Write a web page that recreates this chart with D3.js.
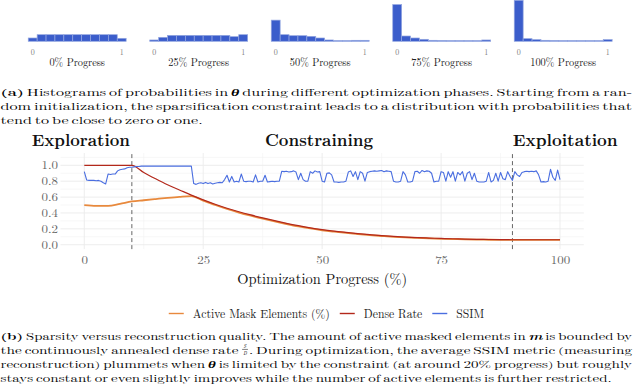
<!DOCTYPE html>
<html><head><meta charset="utf-8">
<script src="https://cdn.jsdelivr.net/npm/d3@7"></script>
<style>
body{margin:0;background:#fff}
svg{display:block}
</style>
</head><body>
<svg id="c" width="640" height="386"></svg>
<script>
// ---------------- DATA ----------------
const histBins = [0, 0.1, 0.2, 0.3, 0.4, 0.5, 0.6, 0.7, 0.8, 0.9, 1.0];
const histTitles = ["0% Progress", "25% Progress", "50% Progress", "75% Progress", "100% Progress"];
const histTickLabels = ["0", "1"];
const hist0   = [5, 10, 10, 10, 10, 10, 10, 10, 10, 10, 4.5];
const hist25  = [2, 6, 9, 9, 9, 9, 9, 9, 9, 7, 10];
const hist50  = [32, 10, 8.5, 8.5, 7.5, 5, 2, 1, 1, 1.5, 1.5];
const hist75  = [55.5, 8, 5, 3, 1.5, 1.2, 1, 1, 1, 1, 2];
const hist100 = [62, 4, 2.5, 1.5, 1.2, 1, 1, 1, 1, 1, 2.5];
const histSeries = [hist0, hist25, hist50, hist75, hist100];

const seriesNames = ["Active Mask Elements (%)", "Dense Rate", "SSIM"];
const seriesColors = ["#E8893D", "#B3281B", "#4A6EE0"];
const phaseNames = ["Exploration", "Constraining", "Exploitation"];
const phaseBounds = [10, 90];
const xTicks = [0, 25, 50, 75, 100];
const yTicks = [0, 0.2, 0.4, 0.6, 0.8, 1.0];

// progress (%) for the smooth series, every 2.5 %
const rateProgress = d3.range(0, 100.01, 2.5);
const denseRate = [1.0, 1.0, 1.0, 1.0, 1.0, 0.91, 0.83, 0.755, 0.69, 0.625,
  0.565, 0.51, 0.46, 0.415, 0.375, 0.338, 0.303, 0.27, 0.24, 0.213,
  0.19, 0.171, 0.155, 0.14, 0.127, 0.115, 0.105, 0.097, 0.09, 0.084,
  0.079, 0.075, 0.071, 0.068, 0.066, 0.064, 0.063, 0.063, 0.063, 0.063, 0.063];
const activeMask = [0.50, 0.49, 0.49, 0.515, 0.545, 0.56, 0.575, 0.59, 0.603, 0.612,
  0.555, 0.50, 0.45, 0.405, 0.365, 0.328, 0.293, 0.261, 0.231, 0.205,
  0.182, 0.164, 0.148, 0.134, 0.121, 0.11, 0.1, 0.092, 0.086, 0.08,
  0.075, 0.071, 0.068, 0.065, 0.063, 0.062, 0.061, 0.061, 0.06, 0.06, 0.06];

// progress (%) for SSIM, every 0.5 %
const ssimProgress = d3.range(0, 100.01, 0.5);
const ssim = [
  0.92, 0.815, 0.81, 0.81, 0.81, 0.805, 0.81, 0.80, 0.78, 0.765,
  0.89, 0.885, 0.89, 0.89, 0.93, 0.945, 0.95, 0.955, 0.97, 0.975,
  0.975, 0.98, 0.985, 0.985, 0.99, 0.99, 0.99, 0.99, 0.99, 0.99,
  0.99, 0.99, 0.99, 0.99, 0.99, 0.99, 0.99, 0.99, 0.99, 0.99,
  0.99, 0.99, 0.99, 0.99, 0.99, 0.99, 0.77, 0.76, 0.775, 0.78,
  0.77, 0.785, 0.77, 0.78, 0.765, 0.775, 0.78, 0.785, 0.78, 0.82,
  0.875, 0.79, 0.86, 0.79, 0.80, 0.79, 0.89, 0.80, 0.795, 0.80,
  0.80, 0.79, 0.88, 0.79, 0.80, 0.80, 0.875, 0.79, 0.795, 0.80,
  0.795, 0.80, 0.80, 0.925, 0.92, 0.925, 0.915, 0.92, 0.93, 0.915,
  0.82, 0.90, 0.82, 0.80, 0.80, 0.92, 0.90, 0.93, 0.915, 0.92,
  0.80, 0.79, 0.90, 0.905, 0.88, 0.79, 0.79, 0.785, 0.79, 0.79,
  0.80, 0.915, 0.93, 0.86, 0.92, 0.82, 0.92, 0.90, 0.80, 0.91,
  0.92, 0.925, 0.93, 0.925, 0.93, 0.935, 0.92, 0.93, 0.925, 0.92,
  0.80, 0.79, 0.79, 0.80, 0.92, 0.88, 0.79, 0.79, 0.80, 0.92,
  0.925, 0.90, 0.935, 0.92, 0.93, 0.925, 0.90, 0.79, 0.80, 0.80,
  0.92, 0.91, 0.80, 0.92, 0.85, 0.92, 0.80, 0.91, 0.88, 0.92,
  0.80, 0.90, 0.92, 0.82, 0.90, 0.80, 0.79, 0.79, 0.79, 0.80,
  0.91, 0.79, 0.81, 0.90, 0.80, 0.91, 0.83, 0.82, 0.92, 0.86,
  0.81, 0.92, 0.88, 0.86, 0.91, 0.92, 0.925, 0.92, 0.925, 0.92,
  0.93, 0.88, 0.79, 0.795, 0.79, 0.80, 0.95, 0.85, 0.81, 0.94,
  0.82];

const captionA = [
  {text: "**(a)** Histograms of probabilities in $θ$ during different optimization phases. Starting from a ran-", justify: true},
  {text: "dom initialization, the sparsification constraint leads to a distribution with probabilities that", justify: true},
  {text: "tend to be close to zero or one.", justify: false}
];
const captionB = [
  {text: "**(b)** Sparsity versus reconstruction quality. The amount of active masked elements in $m$ is bounded by", justify: true},
  {text: "the continuously annealed dense rate @frac. During optimization, the average SSIM metric (measuring", justify: true},
  {text: "reconstruction) plummets when $θ$ is limited by the constraint (at around 20% progress) but roughly", justify: true},
  {text: "stays constant or even slightly improves while the number of active elements is further restricted.", justify: false}
];

// ---------------- FONT PICK ----------------
function pickSerif() {
  const cands = ["Latin Modern Roman", "LM Roman 10", "CMU Serif", "Computer Modern", "Liberation Serif",
    "Tinos", "DejaVu Serif", "Noto Serif", "FreeSerif", "Nimbus Roman", "Nimbus Roman No9 L",
    "Times New Roman", "Times", "Georgia", "PT Serif", "Source Serif Pro", "Droid Serif",
    "Bitstream Vera Serif", "Noto Serif CJK SC", "Noto Serif CJK JP", "Noto Serif CJK KR"];
  const ctx = document.createElement("canvas").getContext("2d");
  const s = "mmmmmmmmmmlliWwQqg@#1234 Hamburgefonstiv";
  const bases = ["monospace", "sans-serif", "cursive"];
  const base = bases.map(b => { ctx.font = "72px " + b; return ctx.measureText(s).width; });
  for (const c of cands) {
    let diff = 0;
    bases.forEach((b, i) => {
      ctx.font = `72px "${c}", ${b}`;
      if (Math.abs(ctx.measureText(s).width - base[i]) > 0.5) diff++;
    });
    if (diff === 3) return `"${c}", serif`;
  }
  return "serif";
}
const FONT = pickSerif();
const svg = d3.select("#c").style("font-family", FONT).attr("font-family", FONT);

// font box metrics (per 1px of font size)
const M = (() => {
  const t = svg.append("text").attr("font-size", 100).text("Hg(");
  const bb = t.node().getBBox();
  t.remove();
  return {asc: -bb.y / 100, desc: (bb.y + bb.height) / 100};
})();
const R = M.asc + M.desc;

// ---------------- DRAW ----------------
function fitFactor(str, fs, target, weight) {
  const t = svg.append("text").attr("font-size", fs).attr("font-weight", weight || "normal").text(str);
  const w = t.node().getComputedTextLength();
  t.remove();
  return target / w;
}
function stretch(sel, f) {
  sel.each(function () {
    const w = this.getComputedTextLength();
    d3.select(this).attr("textLength", w * f).attr("lengthAdjust", "spacingAndGlyphs");
  });
}

// ---- histograms ----
const fsHT = Math.min(11.5, 11.5);
const fHist = fitFactor("0% Progress", fsHT, 55.5);
const yh = d3.scaleLinear().domain([0, 62]).range([41.3, 0.3]);
histSeries.forEach((vals, i) => {
  const x0 = 32.7 + i * 121.5;
  const xh = d3.scaleLinear().domain([0, 1]).range([x0, x0 + 89]);
  const g = svg.append("g");
  const bw = xh(0.1) - xh(0);
  g.selectAll("rect").data(vals).join("rect")
    .attr("x", (d, j) => xh(histBins[j] - 0.05))
    .attr("width", bw)
    .attr("y", d => yh(d))
    .attr("height", d => yh(0) - yh(d))
    .attr("fill", "#3B5DCB")
    .attr("stroke", "#93A6E0")
    .attr("stroke-width", 0.7);
  g.selectAll("text.tk").data(histTickLabels).join("text").attr("class", "tk")
    .attr("x", (d, j) => xh(j)).attr("y", 54.5)
    .attr("text-anchor", "middle").attr("font-size", 8).attr("fill", "#808080")
    .text(d => d);
  g.append("text").attr("x", xh(0.5)).attr("y", 65.5)
    .attr("text-anchor", "middle").attr("font-size", fsHT).attr("fill", "#222")
    .text(histTitles[i]).call(stretch, fHist);
});

// ---- captions ----
const LH = 14;
const fsCap = Math.min(11.4, (LH - 0.2) / R);
const fsFrac = Math.min(6.5, (fsCap * R - 0.3) / (2 * R));
function richWord(parent, word, fs) {
  const t = parent.append("text").attr("font-size", fs).attr("fill", "#000");
  word.split(/(\*\*[^*]+\*\*|\$[^$]+\$)/).filter(s => s.length).forEach(p => {
    const ts = t.append("tspan");
    if (p.startsWith("**")) ts.attr("font-weight", "bold").text(p.slice(2, -2));
    else if (p.startsWith("$")) ts.attr("font-weight", "bold").attr("font-style", "italic").text(p.slice(1, -1));
    else ts.text(p);
  });
  return t;
}
function paragraph(lines, x0, y0, lh, fs, width) {
  const gapN = fs * 0.3;
  const built = lines.map(ln => {
    const g = svg.append("g");
    const items = ln.text.split(" ").map(tok => {
      const tg = g.append("g");
      const inner = tg.append("g");
      let w, fixed = 0;
      if (tok.startsWith("@frac")) {
        const yS = -fs * M.asc + fsFrac * M.asc + 0.1;
        const yD = fs * M.desc - fsFrac * M.desc - 0.1;
        const yBar = ((yS + fsFrac * M.desc) + (yD - fsFrac * M.asc)) / 2;
        tg.append("text").attr("font-size", fsFrac).attr("font-style", "italic")
          .attr("text-anchor", "middle").attr("x", 3.6).attr("y", yS).text("S");
        tg.append("line").attr("x1", 0.8).attr("x2", 6.6).attr("y1", yBar).attr("y2", yBar)
          .attr("stroke", "#000").attr("stroke-width", 0.5);
        tg.append("text").attr("font-size", fsFrac).attr("font-style", "italic")
          .attr("text-anchor", "middle").attr("x", 3.6).attr("y", yD).text("D");
        const st = inner.append("text").attr("font-size", fs).text(tok.slice(5));
        w = st.node().getComputedTextLength();
        fixed = 7.6;
      } else {
        w = richWord(inner, tok, fs).node().getComputedTextLength();
      }
      return {tg, inner, w, fixed};
    });
    const nat = d3.sum(items, d => d.w);
    const fixedW = d3.sum(items, d => d.fixed);
    const hs = (width - fixedW - gapN * (items.length - 1)) / nat;
    return {ln, items, hs};
  });
  const justHs = d3.mean(built.filter(b => b.ln.justify), b => b.hs);
  built.forEach((b, i) => {
    const hs = b.ln.justify ? b.hs : justHs;
    let x = x0;
    b.items.forEach(it => {
      it.tg.attr("transform", `translate(${x},${y0 + i * lh})`);
      it.inner.attr("transform", `translate(${it.fixed},0) scale(${hs},1)`);
      x += it.fixed + it.w * hs + gapN;
    });
  });
}
paragraph(captionA, 0.5, 95.5, LH, fsCap, 631.5);
paragraph(captionB, 0.5, 339.5, LH, fsCap, 631.5);

// ---- main chart ----
const x = d3.scaleLinear().domain([-5, 105]).range([60.5, 583.8]);
const y = d3.scaleLinear().domain([-0.055, 1.155]).range([249.1, 153]);
const grid = svg.append("g");
const xMinor = [12.5, 37.5, 62.5, 87.5];
const yMinor = [0.1, 0.3, 0.5, 0.7, 0.9, 1.1];
grid.selectAll("line.hmin").data(yMinor).join("line")
  .attr("x1", x.range()[0]).attr("x2", x.range()[1]).attr("y1", d => y(d)).attr("y2", d => y(d))
  .attr("stroke", "#f2f2f2").attr("stroke-width", 0.6);
grid.selectAll("line.vmin").data(xMinor).join("line")
  .attr("y1", y.range()[0]).attr("y2", y.range()[1]).attr("x1", d => x(d)).attr("x2", d => x(d))
  .attr("stroke", "#f2f2f2").attr("stroke-width", 0.6);
grid.selectAll("line.hmaj").data(yTicks).join("line")
  .attr("x1", x.range()[0]).attr("x2", x.range()[1]).attr("y1", d => y(d)).attr("y2", d => y(d))
  .attr("stroke", "#ebebeb").attr("stroke-width", 0.9);
grid.selectAll("line.vmaj").data(xTicks).join("line")
  .attr("y1", y.range()[0]).attr("y2", y.range()[1]).attr("x1", d => x(d)).attr("x2", d => x(d))
  .attr("stroke", "#ebebeb").attr("stroke-width", 0.9);

// axes
const fsTick = Math.min(12, (y(0) - y(0.2) - 0.4) / R);
const fTick = fitFactor("1.0", fsTick, 16.5);
const xAxis = svg.append("g").attr("transform", `translate(0,${y.range()[0]})`)
  .call(d3.axisBottom(x).tickValues(xTicks).tickSize(0).tickPadding(0).tickFormat(d3.format("d")));
const yAxis = svg.append("g").attr("transform", `translate(${x.range()[0]},0)`)
  .call(d3.axisLeft(y).tickValues(yTicks).tickSize(0).tickPadding(2.5).tickFormat(d3.format(".1f")));
[xAxis, yAxis].forEach(a => {
  a.attr("font-family", null);
  a.select(".domain").remove();
  a.selectAll("text").attr("font-size", fsTick).attr("fill", "#666").call(stretch, fTick);
});
const xTickBase = 264;
xAxis.selectAll("text").attr("y", xTickBase - y.range()[0]).attr("dy", null);
const fsTitle = 14.5;
const titleBase = Math.max(279.5, xTickBase + fsTick * M.desc + fsTitle * M.asc + 0.3);
const fTitle = fitFactor("Optimization Progress (%)", fsTitle, 170);
svg.append("text").attr("x", x(50)).attr("y", titleBase).attr("text-anchor", "middle")
  .attr("font-size", fsTitle).attr("fill", "#111").text("Optimization Progress (%)").call(stretch, fTitle);

// phase separators
svg.append("g").selectAll("line").data(phaseBounds).join("line")
  .attr("x1", d => x(d)).attr("x2", d => x(d)).attr("y1", y.range()[0]).attr("y2", y.range()[1])
  .attr("stroke", "#555").attr("stroke-width", 0.9).attr("stroke-dasharray", "4,3");

// lines
const lineRate = d3.line().x((d, i) => x(rateProgress[i])).y(d => y(d)).curve(d3.curveMonotoneX);
const lineSsim = d3.line().x((d, i) => x(ssimProgress[i])).y(d => y(d));
svg.append("path").datum(activeMask).attr("d", lineRate).attr("fill", "none")
  .attr("stroke", seriesColors[0]).attr("stroke-width", 1.8);
svg.append("path").datum(denseRate).attr("d", lineRate).attr("fill", "none")
  .attr("stroke", seriesColors[1]).attr("stroke-width", 1.2);
svg.append("path").datum(ssim).attr("d", lineSsim).attr("fill", "none")
  .attr("stroke", seriesColors[2]).attr("stroke-width", 1.1).attr("stroke-linejoin", "round");

// phase titles
const phasePos = [{x: 31.7, w: 98.3}, {x: 265, w: 108}, {x: 512.7, w: 105}];
svg.append("g").selectAll("text").data(phaseNames).join("text")
  .attr("x", (d, i) => phasePos[i].x).attr("y", 146)
  .attr("font-size", 16.5).attr("font-weight", "bold").attr("fill", "#111")
  .attr("textLength", (d, i) => phasePos[i].w).attr("lengthAdjust", "spacingAndGlyphs")
  .text(d => d);

// legend
const fLeg = fitFactor("Active Mask Elements (%)", 12, 137);
const leg = svg.append("g");
let lx = 0;
seriesNames.forEach((name, i) => {
  const g = leg.append("g").attr("transform", `translate(${lx},0)`);
  g.append("line").attr("x1", 0).attr("x2", 15).attr("y1", 0).attr("y2", 0)
    .attr("stroke", seriesColors[i]).attr("stroke-width", 1.4);
  const t = g.append("text").attr("x", 24).attr("y", 4).attr("font-size", 12).attr("fill", "#222").text(name);
  const w = t.node().getComputedTextLength() * fLeg;
  t.attr("textLength", w).attr("lengthAdjust", "spacingAndGlyphs");
  lx += 24 + w + 10;
});
lx -= 10;
leg.attr("transform", `translate(${326.5 - lx / 2},313.5)`);
</script>
</body></html>
